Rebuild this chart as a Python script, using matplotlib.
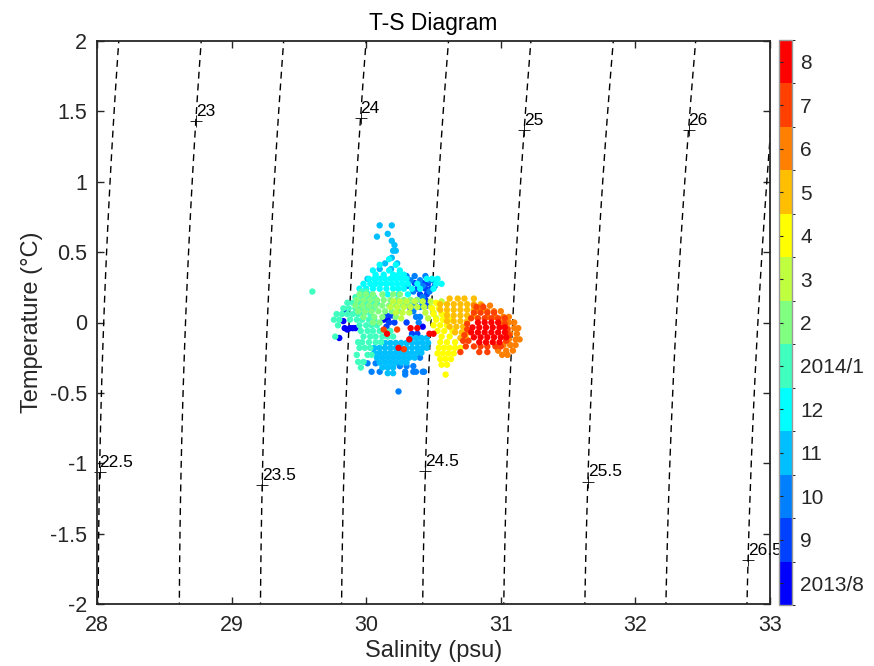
import numpy as np
import matplotlib.pyplot as plt
from matplotlib.colors import ListedColormap, BoundaryNorm
from matplotlib.cm import ScalarMappable

plt.rcParams['font.family'] = ['Liberation Sans', 'DejaVu Sans']

# months on the colour bar
MONTH_LABELS = ['2013/8', '9', '10', '11', '12', '2014/1', '2', '3', '4',
                '5', '6', '7', '8']
MONTH_COLORS = ['#0000ff', '#0040ff', '#0080ff', '#00bfff', '#00ffff',
                '#40ffbf', '#80ff80', '#bfff40', '#ffff00', '#ffbf00',
                '#ff8000', '#ff4000', '#ff0000']

# sigma-t isopycnals and where their labels sit (temperature of the label)
DENSITY_LEVELS = [22.5, 23.0, 23.5, 24.0, 24.5, 25.0, 25.5, 26.0, 26.5]
LABEL_TEMPS = [-1.06, 1.43, -1.155, 1.45, -1.055, 1.37, -1.13, 1.37, -1.69]
# salinity spacing of the isopycnals, matched to the figure
ISO_STRETCH = 0.98

aug13 = [(0.09, [29.84]), (0.01, [29.83]), (-0.04, [29.84, 29.88, 29.90, 29.92]),
         (-0.05, [29.86]), (-0.11, [29.80]), (0.02, [30.13, 30.16]),
         (0.10, [30.33]), (-0.03, [30.42])]
sep13 = [(0.28, [30.36, 30.42, 30.46]), (0.24, [30.38, 30.44, 30.48]),
         (0.20, [30.40, 30.45]), (0.16, [30.38, 30.44]), (0.12, [30.45]),
         (0.05, [30.15, 30.19]),
         (0.00, [30.17, 30.21, 30.30]), (-0.03, [30.15]), (-0.08, [30.34, 30.38])]
oct13 = [(0.33, [30.30, 30.36, 30.44]), (0.30, [30.33, 30.40, 30.47, 30.50]),
         (0.26, [30.31, 30.42, 30.51]), (0.22, [30.35, 30.47]), (0.18, [30.42]),
         (0.14, [30.30, 30.36, 30.42]), (0.11, [30.33, 30.40]),
         (0.08, [30.35]), (0.04, [30.37, 30.40]), (0.00, [30.39]),
         (-0.25, [30.40]), (-0.29, [30.01, 30.07]), (-0.31, [30.25, 30.30, 30.35]),
         (-0.35, [30.04, 30.10, 30.29, 30.35, 30.37, 30.42, 30.43]),
         (-0.37, [30.29]), (-0.49, [30.24])]
nov13 = [(0.69, [30.10, 30.19]), (0.63, [30.16]), (0.61, [30.08]), (0.58, [30.19]),
         (0.55, [30.21]), (0.51, [30.20, 30.22]), (0.46, [30.19]),
         (0.42, [30.14, 30.23]), (0.38, [30.10, 30.185]), (0.31, [30.01]),
         (-0.11, [30.33, 30.37, 30.41, 30.45]),
         (-0.145, [30.14, 30.18, 30.22, 30.26, 30.30, 30.34, 30.38, 30.42, 30.46]),
         (-0.18, [30.06, 30.10, 30.14, 30.18, 30.22, 30.26, 30.30, 30.34, 30.38, 30.42, 30.45]),
         (-0.215, [30.06, 30.10, 30.14, 30.18, 30.22, 30.26, 30.30, 30.34, 30.38, 30.41]),
         (-0.25, [30.08, 30.12, 30.16, 30.20, 30.24, 30.28, 30.32, 30.36]),
         (-0.285, [30.10, 30.14, 30.18, 30.22, 30.26, 30.30]),
         (-0.32, [30.12, 30.16, 30.20]), (-0.36, [30.16, 30.20])]
dec13 = [(0.45, [30.17]), (0.41, [30.10, 30.22]), (0.37, [30.05, 30.17, 30.25]),
         (0.34, [30.07, 30.13, 30.20, 30.24, 30.28]),
         (0.31, [30.02, 30.06, 30.10, 30.14, 30.18, 30.22, 30.26, 30.30, 30.45, 30.49, 30.53]),
         (0.275, [29.98, 30.03, 30.07, 30.11, 30.15, 30.19, 30.23, 30.27, 30.31, 30.38, 30.52, 30.56]),
         (0.24, [29.95, 30.00, 30.05, 30.10, 30.15, 30.20, 30.24, 30.28, 30.34, 30.40, 30.50]),
         (0.20, [30.02, 30.16, 30.24, 30.31])]
jan14 = [(0.22, [29.60, 29.96, 30.00]), (0.18, [29.92, 29.97, 30.02, 30.06]),
         (0.14, [29.86, 29.90, 29.95, 30.00, 30.04, 30.08]),
         (0.10, [29.83, 29.87, 29.92, 29.96, 30.01, 30.05]),
         (0.06, [29.78, 29.82, 29.86, 29.90, 29.94, 29.98, 30.03]),
         (0.02, [29.76, 29.80, 29.88, 29.93, 29.97, 30.02, 30.06]),
         (-0.02, [29.79, 29.95, 30.00, 30.04, 30.08]),
         (-0.06, [29.96, 30.01, 30.05, 30.10, 30.14, 30.18]),
         (-0.10, [29.77, 29.98, 30.03, 30.07, 30.12, 30.16, 30.20]),
         (-0.14, [29.94, 29.97, 30.02, 30.07, 30.11]),
         (-0.18, [29.95, 29.99, 30.03]), (-0.23, [29.93, 30.01, 30.04]),
         (-0.28, [29.94, 29.98]), (-0.32, [29.96])]
feb14 = [(0.20, [29.95, 30.00, 30.05, 30.12, 30.20, 30.25]),
         (0.16, [29.93, 29.98, 30.03, 30.08, 30.13, 30.18, 30.23, 30.28, 30.33, 30.38]),
         (0.12, [29.92, 29.97, 30.02, 30.07, 30.12, 30.17, 30.22, 30.27, 30.32]),
         (0.08, [29.94, 29.99, 30.04, 30.09, 30.14, 30.19, 30.24]),
         (0.04, [29.98, 30.06, 30.12, 30.22]), (0.00, [30.05, 30.10])]
mar14 = [(0.15, [30.20, 30.25, 30.30, 30.36, 30.42, 30.48, 30.56]),
         (0.11, [30.18, 30.23, 30.28, 30.33, 30.38, 30.43, 30.48]),
         (0.07, [30.22, 30.27, 30.32, 30.44, 30.50]), (0.03, [30.26, 30.46, 30.52])]
apr14 = [(0.14, [30.52]), (0.10, [30.49, 30.54]), (0.06, [30.50, 30.56, 30.60]),
         (0.02, [30.52, 30.57, 30.62]), (-0.02, [30.50, 30.55, 30.60]),
         (-0.06, [30.53, 30.58, 30.64]), (-0.10, [30.56, 30.62]),
         (-0.14, [30.55, 30.60, 30.66]), (-0.18, [30.54, 30.58, 30.62, 30.66, 30.70]),
         (-0.22, [30.53, 30.57, 30.61, 30.65]), (-0.26, [30.55, 30.59, 30.63]),
         (-0.30, [30.56, 30.60]), (-0.37, [30.59])]
may14 = [(0.17, [30.62, 30.68, 30.73, 30.80]),
         (0.13, [30.55, 30.60, 30.65, 30.70, 30.75, 30.80, 30.85]),
         (0.09, [30.55, 30.60, 30.65, 30.70, 30.75, 30.80, 30.86]),
         (0.05, [30.60, 30.65, 30.70, 30.75, 30.80]),
         (0.01, [30.60, 30.65, 30.70, 30.75]), (-0.03, [30.62, 30.67, 30.72]),
         (-0.07, [30.66, 30.71, 30.76]), (-0.11, [30.70, 30.74])]
jun14 = [(0.12, [30.80, 30.86, 30.92]), (0.08, [30.84, 30.90, 30.95, 31.00]),
         (0.04, [30.90, 30.96, 31.02, 31.06]), (0.00, [31.00, 31.06, 31.10]),
         (-0.04, [31.05, 31.10, 31.13]), (-0.08, [31.07, 31.12]),
         (-0.12, [31.06, 31.11, 31.14]), (-0.16, [31.02, 31.07, 31.11]),
         (-0.20, [30.98, 31.04, 31.09]), (-0.23, [31.01, 31.05])]
jul14 = [(0.11, [30.82, 30.87]), (0.07, [30.80, 30.85, 30.90, 30.95]),
         (0.03, [30.78, 30.83, 30.88, 30.93, 30.98, 31.03]),
         (-0.01, [30.75, 31.03]), (-0.05, [30.75, 31.05]), (-0.09, [30.73, 31.06]),
         (-0.13, [30.72, 30.76, 31.04]),
         (-0.17, [30.74, 30.80, 30.85, 30.90, 30.96, 31.00]),
         (-0.21, [30.70, 30.84, 30.90]), (-0.05, [30.13, 30.23]), (-0.19, [30.28])]
aug14 = [(0.00, [30.83, 30.88, 30.93, 30.98]),
         (-0.035, [30.79, 30.84, 30.89, 30.94, 30.99, 31.03]),
         (-0.07, [30.78, 30.83, 30.88, 30.93, 30.98, 31.03]),
         (-0.105, [30.80, 30.85, 30.90, 30.95, 31.00, 31.04]),
         (-0.14, [30.84, 30.89, 30.94, 30.99]),
         (-0.04, [30.33, 30.38]), (-0.08, [30.155, 30.47, 30.50]),
         (-0.12, [30.32]), (-0.18, [30.24])]

MONTHS = [aug13, sep13, oct13, nov13, dec13, jan14, feb14, mar14, apr14,
          may14, jun14, jul14, aug14]


def sigma_t(s, t):
    """UNESCO 1980 density at the surface, minus 1000"""
    rho_w = (999.842594 + 6.793952e-2 * t - 9.095290e-3 * t**2 + 1.001685e-4 * t**3
             - 1.120083e-6 * t**4 + 6.536332e-9 * t**5)
    a = 0.824493 - 4.0899e-3 * t + 7.6438e-5 * t**2 - 8.2467e-7 * t**3 + 5.3875e-9 * t**4
    b = -5.72466e-3 + 1.0227e-4 * t - 1.6546e-6 * t**2
    return rho_w + a * s + b * s**1.5 + 4.8314e-4 * s**2 - 1000.0


def iso_density(s, t):
    """density field used for the dashed isopycnals"""
    return sigma_t(28.0 + (s - 28.0) / ISO_STRETCH, t)


def expand(rows):
    sal, temp = [], []
    for t, s_list in rows:
        sal.extend(s_list)
        temp.extend([t] * len(s_list))
    return np.array(sal), np.array(temp)


INK = '#262626'
fig = plt.figure(figsize=(8.74, 6.66), dpi=100)
ax = fig.add_axes([97 / 874, 62 / 666, 673 / 874, 563 / 666])

# isopycnals
s_grid = np.linspace(27.5, 33.5, 301)
t_grid = np.linspace(-2.2, 2.2, 221)
SS, TT = np.meshgrid(s_grid, t_grid)
cs = ax.contour(SS, TT, iso_density(SS, TT), levels=DENSITY_LEVELS, colors='k',
                linewidths=1.0)
cs.set_linestyle((0, (5, 3.5)))

for level, t_lab in zip(DENSITY_LEVELS, LABEL_TEMPS):
    s_lab = np.interp(level, iso_density(s_grid, t_lab), s_grid)
    ax.plot(s_lab, t_lab, marker='+', color='k', markersize=8, markeredgewidth=0.6,
            clip_on=False)
    ax.text(s_lab, t_lab + 0.015, '{:g}'.format(level), fontsize=12.5,
            ha='left', va='bottom', color='k', clip_on=False)

# observations, in time order
for i, rows in enumerate(MONTHS):
    sal, temp = expand(rows)
    ax.scatter(sal, temp, s=21, c=MONTH_COLORS[i], edgecolors='none', zorder=3)

ax.set_xlim(28, 33)
ax.set_ylim(-2, 2)
ax.set_xticks(np.arange(28, 33.1, 1))
ax.set_yticks(np.arange(-2, 2.01, 0.5))
ax.set_yticklabels(['-2', '-1.5', '-1', '-0.5', '0', '0.5', '1', '1.5', '2'])
ax.tick_params(direction='in', top=True, right=True, length=5, width=1.0,
               labelsize=15.5, colors=INK)
ax.tick_params(axis='x', pad=8)
ax.tick_params(axis='y', pad=7)
for sp in ax.spines.values():
    sp.set_linewidth(1.3)
    sp.set_color(INK)
ax.set_xlabel('Salinity (psu)', fontsize=17, color=INK, labelpad=3)
ax.set_ylabel('Temperature (°C)', fontsize=17, color=INK, labelpad=5)
ax.set_title('T-S Diagram', fontsize=16.5, color='k', pad=8)

# colour bar of months
cax = fig.add_axes([779 / 874, 61 / 666, 13 / 874, 565 / 666])
cmap = ListedColormap(MONTH_COLORS)
norm = BoundaryNorm(np.arange(-0.5, 13.5, 1), cmap.N)
cbar = fig.colorbar(ScalarMappable(norm=norm, cmap=cmap), cax=cax,
                    ticks=np.arange(13))
cbar.ax.set_yticklabels(MONTH_LABELS)
cbar.ax.tick_params(direction='in', left=True, right=False, labelleft=False,
                    labelright=True, length=3, width=0.8, labelsize=15,
                    colors=INK, pad=6)
cbar.outline.set_edgecolor('#999999')
cbar.outline.set_linewidth(1.0)

fig.savefig('out.png', dpi=100)
